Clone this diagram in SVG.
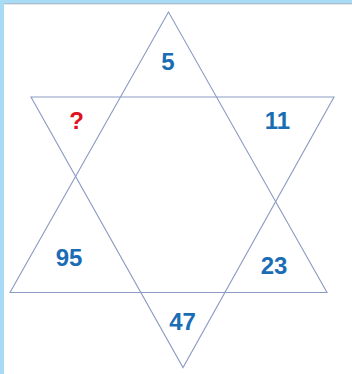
<svg xmlns="http://www.w3.org/2000/svg" width="352" height="374" viewBox="0 0 352 374">
<style>
.tri{fill:none;stroke:#8b9bc3;stroke-width:1.1}
.n{font-family:"Liberation Sans",Arial,sans-serif;font-weight:bold;font-size:24px;fill:#1a6db5;text-anchor:middle}
.q{fill:#e01020}
</style>
<rect x="0" y="0" width="352" height="374" fill="#ffffff"/>
<rect x="0" y="0" width="352" height="3.5" fill="#a8dcf6"/>
<line x1="4" y1="3.8" x2="352" y2="3.8" stroke="#8a9aa8" stroke-width="0.8"/>
<rect x="0" y="0" width="4" height="374" fill="#a8dcf6"/>
<g id="connectors">
<polygon class="tri" points="168.5,12 10,292.5 327,292.5"/>
<polygon class="tri" points="31,97 334,97 183,367.5"/>
</g>
<g id="n5"><text class="n" x="168" y="70">5</text></g>
<g id="nq"><text class="n q" x="76.5" y="129">?</text></g>
<g id="n11"><text class="n" x="277.5" y="129">11</text></g>
<g id="n95"><text class="n" x="69" y="266">95</text></g>
<g id="n23"><text class="n" x="274" y="274">23</text></g>
<g id="n47"><text class="n" x="182.5" y="330">47</text></g>
</svg>
